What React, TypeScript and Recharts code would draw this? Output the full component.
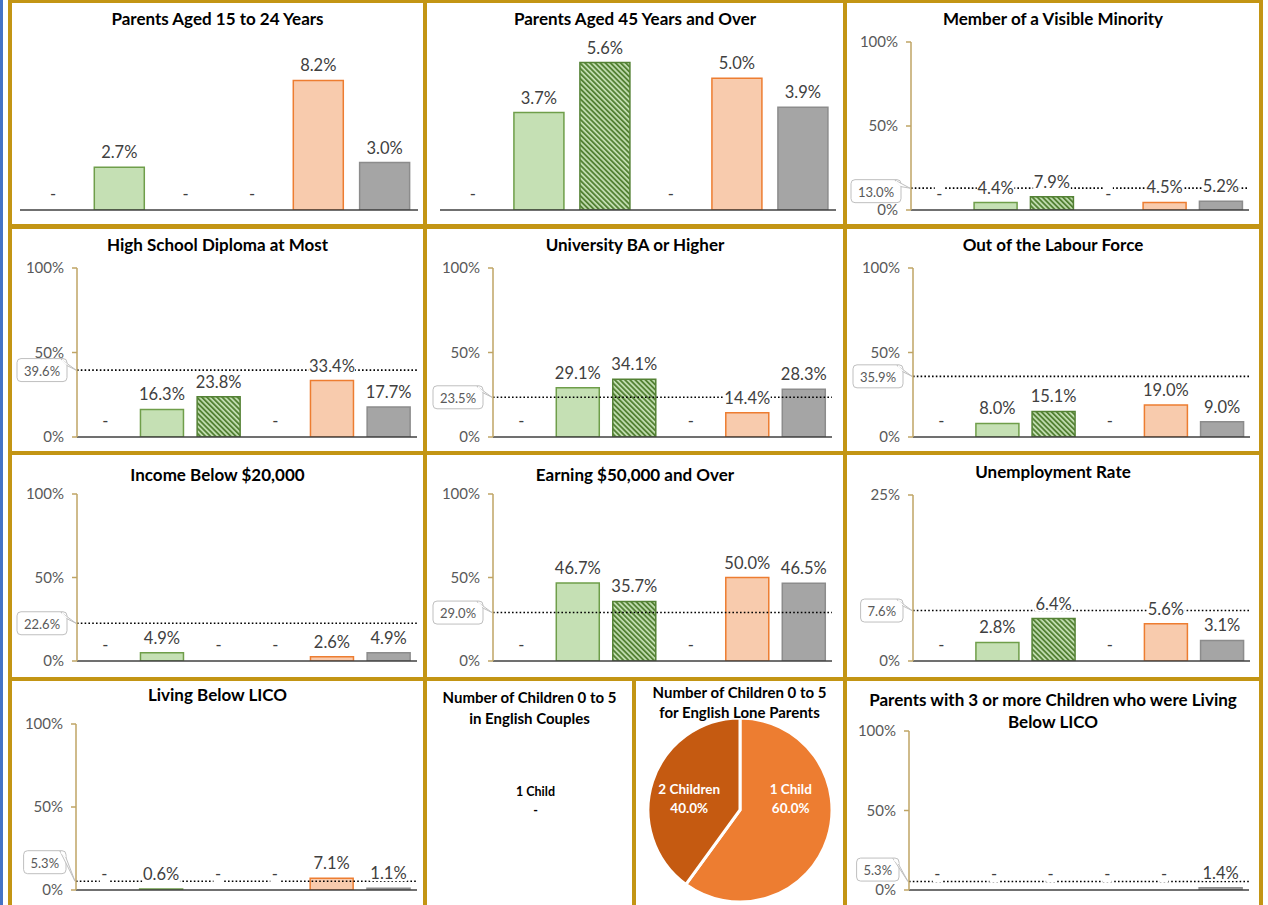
import React from 'react';
import { BarChart, Bar, XAxis, YAxis, ReferenceLine, Cell, LabelList, PieChart, Pie } from 'recharts';

// ---------- DATA ----------
const categories = ['Group A', 'Group B', 'Group C', 'Group D', 'Group E', 'Group F'];

const aged15to24 = [0, 2.7, 0, 0, 8.2, 3.0];
const aged45plus = [0, 3.7, 5.6, 0, 5.0, 3.9];
const visibleMinority = [0, 4.4, 7.9, 0, 4.5, 5.2];
const highSchool = [0, 16.3, 23.8, 0, 33.4, 17.7];
const university = [0, 29.1, 34.1, 0, 14.4, 28.3];
const outOfLabour = [0, 8.0, 15.1, 0, 19.0, 9.0];
const incomeBelow20k = [0, 4.9, 0, 0, 2.6, 4.9];
const earning50k = [0, 46.7, 35.7, 0, 50.0, 46.5];
const unemployment = [0, 2.8, 6.4, 0, 5.6, 3.1];
const livingBelowLico = [0, 0.6, 0, 0, 7.1, 1.1];
const threePlusBelowLico = [0, 0, 0, 0, 0, 1.4];

const refVisibleMinority = 13.0;
const refHighSchool = 39.6;
const refUniversity = 23.5;
const refOutOfLabour = 35.9;
const refIncome = 22.6;
const refEarning = 29.0;
const refUnemployment = 7.6;
const refLico = 5.3;
const refThreePlus = 5.3;

const pctTicks = [0, 50, 100];
const unempTicks = [0, 25];

const loneParentChildren = [
  { name: '1 Child', value: 60.0 },
  { name: '2 Children', value: 40.0 },
];
const coupleChildrenLabel = '1 Child';
const coupleChildrenValue = '-';

// ---------- STYLE ----------
const GOLD = '#C39514';
const AXIS_TAN = '#BFA465';
const FONT = 'Lato, "Open Sans", sans-serif';
const catFill = ['#DAE3F3', '#C5E0B4', 'HATCH', '#E2D5EC', '#F8CBAD', '#A5A5A5'];
const catStroke = ['#8FAADC', '#6F9E4A', '#548235', '#A58BC4', '#ED7D31', '#8C8C8C'];

const toRows = (vals: number[]) => categories.map((c, i) => ({ cat: c, value: vals[i] }));

const BarLabel = (props: any) => {
  const { x, y, width, height, value } = props;
  const isZero = !value;
  const text = isZero ? '-' : `${Number(value).toFixed(1)}%`;
  const cx = Number(x) + Number(width) / 2;
  // for zero bars, y is the top of the (min point size) bar: use the bottom
  const top = isZero ? Number(y) + Number(height) : Number(y);
  const cy = top - (isZero ? 16 : 15);
  const tw = isZero ? 7 : text.length * 8.9;
  return (
    <g>
      <rect x={cx - tw / 2 - 1} y={cy - 8} width={tw + 2} height={16} fill="#fff" />
      <text x={cx} y={cy} textAnchor="middle" dominantBaseline="central" fontSize={16.5} fill="#404040" fontFamily={FONT}>
        {text}
      </text>
    </g>
  );
};

const Callout = (props: any) => {
  const { viewBox, text, dy } = props;
  const x = viewBox.x;
  const y = viewBox.y;
  const w = text.length * 7.6 + 12;
  const h = 23;
  const right = x - 10;
  const left = right - w;
  const cy = y + (dy || 0);
  const top = cy - h / 2;
  return (
    <g>
      <rect x={left} y={top} width={w} height={h} rx={4} ry={4} fill="#fff" stroke="#BFBFBF" strokeWidth={1} />
      <polygon points={`${right - 6},${top + 0.5} ${x - 1},${y} ${right},${top + 7}`} fill="#fff" stroke="#BFBFBF" strokeWidth={1} />
      <line x1={right - 5} y1={top + 1.5} x2={right - 0.5} y2={top + 6} stroke="#fff" strokeWidth={1.5} />
      <text x={left + w / 2} y={cy + 0.5} textAnchor="middle" dominantBaseline="central" fontSize={13} fill="#595959" fontFamily={FONT}>
        {text}
      </text>
    </g>
  );
};

type PanelProps = {
  id: string;
  x: number; y: number; w: number; h: number;
  title: string[];
  titleY: number;
  titleSize?: number;
  values: number[];
  refValue?: number;
  domain: [number, number];
  ticks?: number[];
  showAxis: boolean;
  m: { left: number; right: number; top: number; bottom: number };
  calloutDy?: number;
};

const BarPanel = (p: PanelProps) => {
  const rows = toRows(p.values);
  const yw = 50;
  return (
    <div style={{ position: 'absolute', left: p.x, top: p.y, width: p.w, height: p.h, background: '#fff', overflow: 'hidden' }}>
      {p.title.map((t, i) => (
        <div key={i} style={{ position: 'absolute', left: 0, width: p.w, top: p.titleY + i * 22 - 11, height: 22, lineHeight: '22px', textAlign: 'center', fontFamily: FONT, fontWeight: 700, fontSize: p.titleSize || 17, color: '#000', whiteSpace: 'nowrap' }}>
          {t}
        </div>
      ))}
      <BarChart
        width={p.w}
        height={p.h}
        data={rows}
        barCategoryGap="12%"
        margin={{ top: p.m.top, right: p.m.right, bottom: p.m.bottom - 1, left: p.showAxis ? p.m.left - yw : p.m.left }}
        style={{ position: 'absolute', left: 0, top: 0 }}
      >
        <defs>
          <pattern id={`hatch-${p.id}`} patternUnits="userSpaceOnUse" width="3.6" height="3.6" patternTransform="rotate(-45)">
            <rect width="3.6" height="3.6" fill="#C5E0B4" />
            <rect width="1.9" height="3.6" fill="#548235" />
          </pattern>
        </defs>
        <XAxis dataKey="cat" tick={false} tickLine={false} height={1} axisLine={{ stroke: '#404040', strokeWidth: 1.5 }} />
        <YAxis
          hide={!p.showAxis}
          domain={p.domain}
          ticks={p.ticks}
          allowDataOverflow
          width={yw}
          tickSize={5}
          tickMargin={8}
          axisLine={{ stroke: AXIS_TAN, strokeWidth: 1.5 }}
          tickLine={{ stroke: AXIS_TAN, strokeWidth: 1.5 }}
          tick={{ fill: '#595959', fontSize: 15, fontFamily: FONT }}
          tickFormatter={(v: number) => `${v}%`}
        />
        <Bar dataKey="value" isAnimationActive={false} minPointSize={1}>
          {rows.map((r, i) => (
            <Cell
              key={r.cat}
              fill={r.value === 0 ? 'none' : catFill[i] === 'HATCH' ? `url(#hatch-${p.id})` : catFill[i]}
              stroke={r.value === 0 ? 'none' : catStroke[i]}
              strokeWidth={1.5}
            />
          ))}
          <LabelList dataKey="value" content={<BarLabel />} />
        </Bar>
        {p.refValue !== undefined && (
          <ReferenceLine
            y={p.refValue}
            stroke="#000"
            strokeWidth={1.6}
            strokeDasharray="1.6 2.2"
            label={(lp: any) => <Callout {...lp} text={`${p.refValue!.toFixed(1)}%`} dy={p.calloutDy || 0} />}
          />
        )}
      </BarChart>
    </div>
  );
};

const RAD = Math.PI / 180;
const PieLabel = (props: any) => {
  const { cx, cy, midAngle, outerRadius, name, value } = props;
  const lx = cx + outerRadius * 0.58 * Math.cos(-midAngle * RAD);
  const ly = cy - 7;
  return (
    <text x={lx} y={ly} textAnchor="middle" fill="#fff" fontSize={13.5} fontWeight={700} fontFamily={FONT}>
      <tspan x={lx} dy={-9}>{name}</tspan>
      <tspan x={lx} dy={19}>{`${Number(value).toFixed(1)}%`}</tspan>
    </text>
  );
};

const colX = [12, 427, 847];
const colW = [411, 416, 412];
const rowY = [3, 229, 455, 681];
const rowH = [221, 222, 222, 224];

export default function App() {
  return (
    <div style={{ position: 'absolute', left: 0, top: 0, width: 1268, height: 905, background: '#fff', overflow: 'hidden' }}>
      <div style={{ position: 'absolute', left: 0, top: 0, width: 3, height: 905, background: '#4472C4' }} />
      <div style={{ position: 'absolute', left: 8, top: 0, width: 1255, height: 910, background: GOLD }} />

      <BarPanel id="p1" x={colX[0]} y={rowY[0]} w={colW[0]} h={rowH[0]} title={['Parents Aged 15 to 24 Years']} titleY={16}
        values={aged15to24} domain={[0, 10]} showAxis={false} m={{ left: 8, right: 5, top: 49, bottom: 14 }} />
      <BarPanel id="p2" x={colX[1]} y={rowY[0]} w={colW[1]} h={rowH[0]} title={['Parents Aged 45 Years and Over']} titleY={16}
        values={aged45plus} domain={[0, 6]} showAxis={false} m={{ left: 13, right: 7, top: 49, bottom: 14 }} />
      <BarPanel id="p3" x={colX[2]} y={rowY[0]} w={colW[2]} h={rowH[0]} title={['Member of a Visible Minority']} titleY={16}
        values={visibleMinority} refValue={refVisibleMinority} domain={[0, 100]} ticks={pctTicks} showAxis m={{ left: 64, right: 10, top: 39, bottom: 14 }} calloutDy={3} />

      <BarPanel id="p4" x={colX[0]} y={rowY[1]} w={colW[0]} h={rowH[1]} title={['High School Diploma at Most']} titleY={16}
        values={highSchool} refValue={refHighSchool} domain={[0, 100]} ticks={pctTicks} showAxis m={{ left: 65, right: 6, top: 39, bottom: 14 }} />
      <BarPanel id="p5" x={colX[1]} y={rowY[1]} w={colW[1]} h={rowH[1]} title={['University BA or Higher']} titleY={16}
        values={university} refValue={refUniversity} domain={[0, 100]} ticks={pctTicks} showAxis m={{ left: 66, right: 11, top: 39, bottom: 14 }} />
      <BarPanel id="p6" x={colX[2]} y={rowY[1]} w={colW[2]} h={rowH[1]} title={['Out of the Labour Force']} titleY={16}
        values={outOfLabour} refValue={refOutOfLabour} domain={[0, 100]} ticks={pctTicks} showAxis m={{ left: 66, right: 9, top: 39, bottom: 14 }} />

      <BarPanel id="p7" x={colX[0]} y={rowY[2]} w={colW[0]} h={rowH[2]} title={['Income Below $20,000']} titleY={20}
        values={incomeBelow20k} refValue={refIncome} domain={[0, 100]} ticks={pctTicks} showAxis m={{ left: 65, right: 6, top: 39, bottom: 16 }} />
      <BarPanel id="p8" x={colX[1]} y={rowY[2]} w={colW[1]} h={rowH[2]} title={['Earning $50,000 and Over']} titleY={20}
        values={earning50k} refValue={refEarning} domain={[0, 100]} ticks={pctTicks} showAxis m={{ left: 66, right: 11, top: 39, bottom: 16 }} />
      <BarPanel id="p9" x={colX[2]} y={rowY[2]} w={colW[2]} h={rowH[2]} title={['Unemployment Rate']} titleY={17}
        values={unemployment} refValue={refUnemployment} domain={[0, 25]} ticks={unempTicks} showAxis m={{ left: 66, right: 9, top: 40, bottom: 16 }} />

      <BarPanel id="p10" x={colX[0]} y={rowY[3]} w={colW[0]} h={rowH[3]} title={['Living Below LICO']} titleY={14}
        values={livingBelowLico} refValue={refLico} domain={[0, 100]} ticks={pctTicks} showAxis m={{ left: 64, right: 6, top: 43, bottom: 15 }} calloutDy={-19} />
      <BarPanel id="p11" x={colX[2]} y={rowY[3]} w={colW[2]} h={rowH[3]} title={['Parents with 3 or more Children who were Living', 'Below LICO']} titleY={19}
        values={threePlusBelowLico} refValue={refThreePlus} domain={[0, 100]} ticks={pctTicks} showAxis m={{ left: 62, right: 10, top: 50, bottom: 15 }} calloutDy={-12} />

      {/* Couples pie panel (no data) */}
      <div style={{ position: 'absolute', left: 427, top: 681, width: 205, height: 224, background: '#fff', fontFamily: FONT, fontWeight: 700, color: '#000' }}>
        <div style={{ position: 'absolute', left: 0, width: 205, top: 6, textAlign: 'center', fontSize: 15, lineHeight: '21px', whiteSpace: 'nowrap' }}>
          Number of Children 0 to 5<br />in English Couples
        </div>
        <div style={{ position: 'absolute', left: 6, width: 205, top: 101, textAlign: 'center', fontSize: 12.5, lineHeight: '19px' }}>
          {coupleChildrenLabel}<br />{coupleChildrenValue}
        </div>
      </div>

      {/* Lone parents pie panel */}
      <div style={{ position: 'absolute', left: 636, top: 681, width: 207, height: 224, background: '#fff' }}>
        <div style={{ position: 'absolute', left: -4, width: 215, top: 1, textAlign: 'center', fontSize: 15, lineHeight: '20px', fontFamily: FONT, fontWeight: 700, color: '#000', zIndex: 2, whiteSpace: 'nowrap' }}>
          Number of Children 0 to 5<br />for English Lone Parents
        </div>
        <PieChart width={207} height={224} margin={{ top: 0, right: 0, bottom: 0, left: 0 }} style={{ position: 'absolute', left: 0, top: 0 }}>
          <Pie
            data={loneParentChildren}
            dataKey="value"
            nameKey="name"
            cx={104}
            cy={129}
            outerRadius={92}
            startAngle={90}
            endAngle={-270}
            stroke="#fff"
            strokeWidth={3}
            labelLine={false}
            label={PieLabel}
            isAnimationActive={false}
          >
            <Cell fill="#ED7D31" />
            <Cell fill="#C55A11" />
          </Pie>
        </PieChart>
      </div>
    </div>
  );
}
